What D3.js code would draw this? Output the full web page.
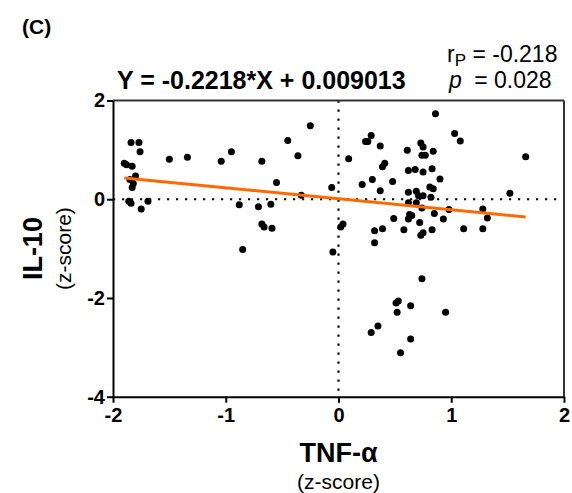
<!DOCTYPE html>
<meta charset="utf-8">
<style>
body { margin: 0; background: #fff; }
svg text { font-family: "Liberation Sans", Arial, sans-serif; fill: #000; }
.axis path, .axis line { stroke: #000; stroke-width: 2px; }
.axis text { font-size: 20px; font-weight: bold; }
</style>
<body>
<script src="https://d3js.org/d3.v7.min.js"></script>
<script>

// TNF-alpha z-scores (x) and IL-10 z-scores (y)
var tnf = [-1.84, -1.77, -1.76, -1.90, -1.88, -1.83, -1.80, -1.85, -1.82, -1.83,
  -1.86, -1.84, -1.75, -1.69, -1.50, -1.34, -1.04, -0.95, -0.88, -0.85,
  -0.68, -0.45, -0.25, -0.36, -0.55, -0.33, -0.06, -0.71, -0.60, -0.68,
  -0.66, -0.59, -0.05, 0.02, 0.04, 0.09, 0.21, 0.24, 0.26, 0.29,
  0.37, 0.30, 0.37, 0.39, 0.41, 0.32, 0.39, 0.32, 0.48, 0.49,
  0.61, 0.62, 0.68, 0.62, 0.69, 0.62, 0.69, 0.71, 0.75, 0.73,
  0.75, 0.74, 0.77, 0.84, 0.75, 0.83, 0.90, 0.81, 0.84, 0.82,
  0.74, 0.63, 0.65, 0.62, 0.72, 0.58, 0.75, 0.73, 0.83, 0.85,
  0.93, 0.98, 0.86, 1.03, 1.08, 1.66, 1.52, 1.28, 1.32, 1.11,
  1.28, 0.74, 0.51, 0.53, 0.64, 0.52, 0.95, 0.35, 0.29, 0.64, 0.55];

var il10 = [1.15, 1.15, 0.96, 0.73, 0.70, 0.67, 0.47, 0.40, 0.32, 0.24,
  -0.04, -0.08, -0.20, -0.04, 0.81, 0.85, 0.77, 0.96, -0.11, -1.02,
  0.77, 1.19, 1.49, 0.88, 0.34, 0.08, 0.24, -0.15, -0.10, -0.50,
  -0.56, -0.59, -1.07, -0.56, -0.50, 0.82, 0.30, 1.17, 1.17, 1.29,
  1.08, 0.40, 0.17, 0.66, 0.73, -0.64, -0.60, -0.88, 0.36, -0.39,
  0.99, 0.58, 0.60, 0.14, 0.16, -0.07, -0.07, 0.07, 0.07, 1.14,
  1.06, 0.89, 0.89, 0.97, 0.55, 0.62, 0.41, 0.25, 0.21, 0.04,
  -0.18, -0.31, -0.33, -0.40, -0.47, -0.62, -0.68, -0.73, -0.62, -0.29,
  -0.40, -0.21, 1.73, 1.33, 1.18, 0.86, 0.12, -0.20, -0.38, -0.60,
  -0.60, -1.61, -2.10, -2.06, -2.16, -2.29, -2.29, -2.57, -2.70, -2.83, -3.11];

var xTicks = [-2, -1, 0, 1, 2];
var yTicks = [2, 0, -2, -4];
var slope = -0.2218, intercept = 0.009013;

var W = 572, H = 493;
var margin = {top: 100.5, right: 8, bottom: 96.3, left: 113};
var width = W - margin.left - margin.right,
    height = H - margin.top - margin.bottom;

var svg = d3.select("body").append("svg")
    .attr("width", W)
    .attr("height", H);

var g = svg.append("g")
    .attr("transform", "translate(" + margin.left + "," + margin.top + ")");

var x = d3.scaleLinear().domain([-2, 2]).range([0, width]);
var y = d3.scaleLinear().domain([-4, 2]).range([height, 0]);

// zero reference lines (dotted)
g.append("line")
    .attr("x1", 0).attr("x2", width)
    .attr("y1", y(0)).attr("y2", y(0))
    .attr("stroke", "#000").attr("stroke-width", 2.2)
    .attr("stroke-dasharray", "2.2,6.8");
g.append("line")
    .attr("x1", x(0)).attr("x2", x(0))
    .attr("y1", 0).attr("y2", height)
    .attr("stroke", "#000").attr("stroke-width", 2.2)
    .attr("stroke-dasharray", "2.2,6.8");

// frame top and right
g.append("line").attr("x1", 0).attr("x2", width).attr("y1", 0).attr("y2", 0)
    .attr("stroke", "#333").attr("stroke-width", 2);
g.append("line").attr("x1", width).attr("x2", width).attr("y1", 0).attr("y2", height)
    .attr("stroke", "#333").attr("stroke-width", 2);

// axes
g.append("g")
    .attr("class", "axis")
    .attr("transform", "translate(0," + height + ")")
    .call(d3.axisBottom(x).tickValues(xTicks).tickSize(6).tickSizeOuter(0).tickPadding(5)
      .tickFormat(d3.format("d")));

g.append("g")
    .attr("class", "axis")
    .call(d3.axisLeft(y).tickValues(yTicks).tickSize(6).tickSizeOuter(0).tickPadding(2)
      .tickFormat(d3.format("d")));

// use a plain hyphen for negatives, as in the figure
g.selectAll(".axis text").text(function(d) { return String(d); });

// points
var pts = tnf.map(function(v, i) { return [v, il10[i]]; });
g.selectAll("circle")
    .data(pts)
  .enter().append("circle")
    .attr("cx", function(d) { return x(d[0]); })
    .attr("cy", function(d) { return y(d[1]); })
    .attr("r", 3.5)
    .attr("fill", "#000");

// regression line
var ext = d3.extent(tnf);
g.append("line")
    .attr("x1", x(ext[0])).attr("y1", y(slope * ext[0] + intercept))
    .attr("x2", x(ext[1])).attr("y2", y(slope * ext[1] + intercept))
    .attr("stroke", "#FF6A00")
    .attr("stroke-width", 3);

// panel letter
svg.append("text")
    .attr("x", 22).attr("y", 34)
    .style("font-size", "21px").style("font-weight", "bold")
    .text("(C)");

// equation
svg.append("text")
    .attr("x", 117).attr("y", 89)
    .style("font-size", "25px").style("font-weight", "bold")
    .text("Y = -0.2218*X + 0.009013");

// stats
var r = svg.append("text")
    .attr("x", 447).attr("y", 62)
    .style("font-size", "23px");
r.append("tspan").text("r");
r.append("tspan").attr("dy", 4).style("font-size", "17px").text("P");
r.append("tspan").attr("dy", -4).text(" = -0.218");

var p = svg.append("text")
    .attr("x", 449).attr("y", 88)
    .style("font-size", "23px");
p.append("tspan").style("font-style", "italic").text("p");
p.append("tspan").attr("dx", 6).text(" = 0.028");

// axis titles
svg.append("text")
    .attr("transform", "translate(" + (margin.left + x(0)) + ",462)")
    .attr("text-anchor", "middle")
    .style("font-size", "27px").style("font-weight", "bold")
    .text("TNF-α");
svg.append("text")
    .attr("transform", "translate(" + (margin.left + x(0)) + ",489)")
    .attr("text-anchor", "middle")
    .style("font-size", "21px")
    .text("(z-score)");

var cy = margin.top + height / 2;
svg.append("text")
    .attr("transform", "translate(42," + cy + ") rotate(-90)")
    .attr("text-anchor", "middle")
    .style("font-size", "27px").style("font-weight", "bold")
    .text("IL-10");
svg.append("text")
    .attr("transform", "translate(71," + cy + ") rotate(-90)")
    .attr("text-anchor", "middle")
    .style("font-size", "21px")
    .text("(z-score)");

</script>
</body>
